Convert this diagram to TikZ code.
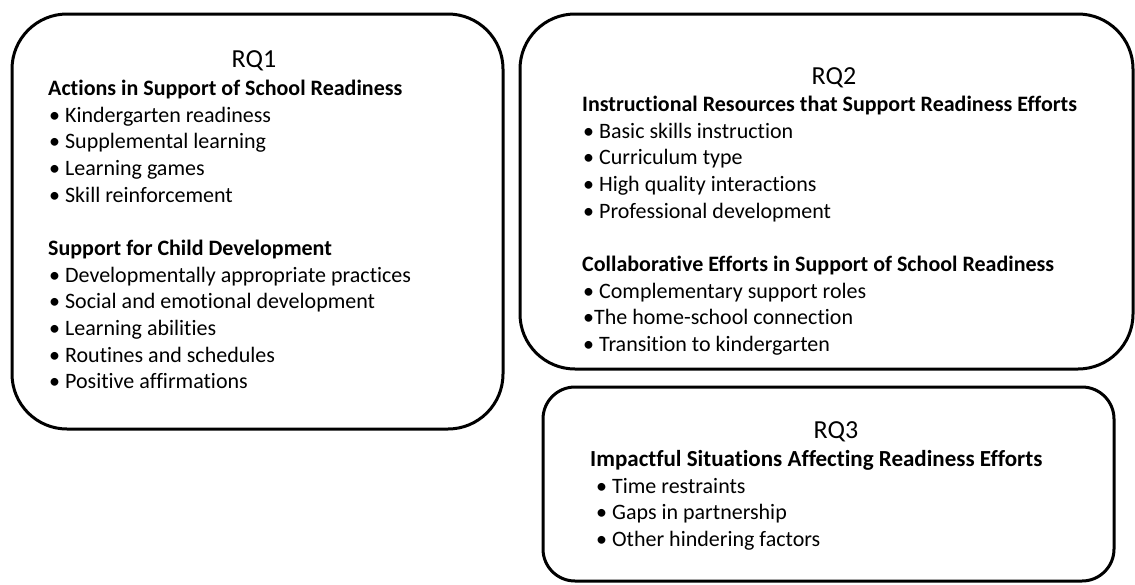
\documentclass[tikz,border=0pt]{standalone}
\usepackage{fontspec}
\setmainfont{Carlito}[Ligatures=NoCommon]
\usetikzlibrary{positioning}
\tikzstyle{rqbox}=[rectangle,draw=black,line width=3pt,rounded corners=55pt]
\tikzstyle{rqtitle}=[font=\fontsize{26}{30}\selectfont,inner sep=0pt,anchor=base]
\tikzstyle{rqhead}=[font=\fontsize{22}{26}\selectfont\bfseries,inner sep=0pt,anchor=base west]
\tikzstyle{rqitem}=[font=\fontsize{22}{26}\selectfont,inner sep=0pt,anchor=base west]
\begin{document}
\begin{tikzpicture}[x=1pt,y=-1pt]
    \useasboundingbox (0,0) rectangle (1135,584);
    % the three boxes
    \node [style=rqbox,minimum width=491pt,minimum height=415pt] (box1) at (257.5,221.5) {};
    \node [style=rqbox,minimum width=613pt,minimum height=355pt] (box2) at (826.5,191.5) {};
    \node [style=rqbox,rounded corners=32pt,minimum width=571pt,minimum height=194pt] (box3) at (828.5,484) {};
    % RQ1
    \node [style=rqtitle] (rq1) at (254,67) {RQ1};
    \node [style=rqhead] (act) at (48,95) {Actions in Support of School Readiness};
    \node [style=rqitem] (act1) at (49,122) {• Kindergarten readiness};
    \node [style=rqitem] (act2) at (49,148.7) {• Supplemental learning};
    \node [style=rqitem] (act3) at (49,175.4) {• Learning games};
    \node [style=rqitem] (act4) at (49,202) {• Skill reinforcement};
    \node [style=rqhead] (dev) at (48,255) {Support for Child Development};
    \node [style=rqitem] (dev1) at (49,282) {• Developmentally appropriate practices};
    \node [style=rqitem] (dev2) at (49,308.7) {• Social and emotional development};
    \node [style=rqitem] (dev3) at (49,335.4) {• Learning abilities};
    \node [style=rqitem] (dev4) at (49,362) {• Routines and schedules};
    \node [style=rqitem] (dev5) at (49,388.7) {• Positive affirmations};
    % RQ2
    \node [style=rqtitle] (rq2) at (834,84) {RQ2};
    \node [style=rqhead] (ins) at (582,111) {Instructional Resources that Support Readiness Efforts};
    \node [style=rqitem] (ins1) at (583,138) {• Basic skills instruction};
    \node [style=rqitem] (ins2) at (583,164.7) {• Curriculum type};
    \node [style=rqitem] (ins3) at (583,191.4) {• High quality interactions};
    \node [style=rqitem] (ins4) at (583,218) {• Professional development};
    \node [style=rqhead] (col) at (582,271) {Collaborative Efforts in Support of School Readiness};
    \node [style=rqitem] (col1) at (583,298) {• Complementary support roles};
    \node [style=rqitem] (col2) at (583,324.7) {•The home-school connection};
    \node [style=rqitem] (col3) at (583,351.4) {• Transition to kindergarten};
    % RQ3
    \node [style=rqtitle] (rq3) at (836,438) {RQ3};
    \node [style=rqhead,font=\fontsize{23}{27}\selectfont\bfseries] (imp) at (590,466) {Impactful Situations Affecting Readiness Efforts};
    \node [style=rqitem] (imp1) at (596,493) {• Time restraints};
    \node [style=rqitem] (imp2) at (596,519.7) {• Gaps in partnership};
    \node [style=rqitem] (imp3) at (596,546.4) {• Other hindering factors};
\end{tikzpicture}
\end{document}
